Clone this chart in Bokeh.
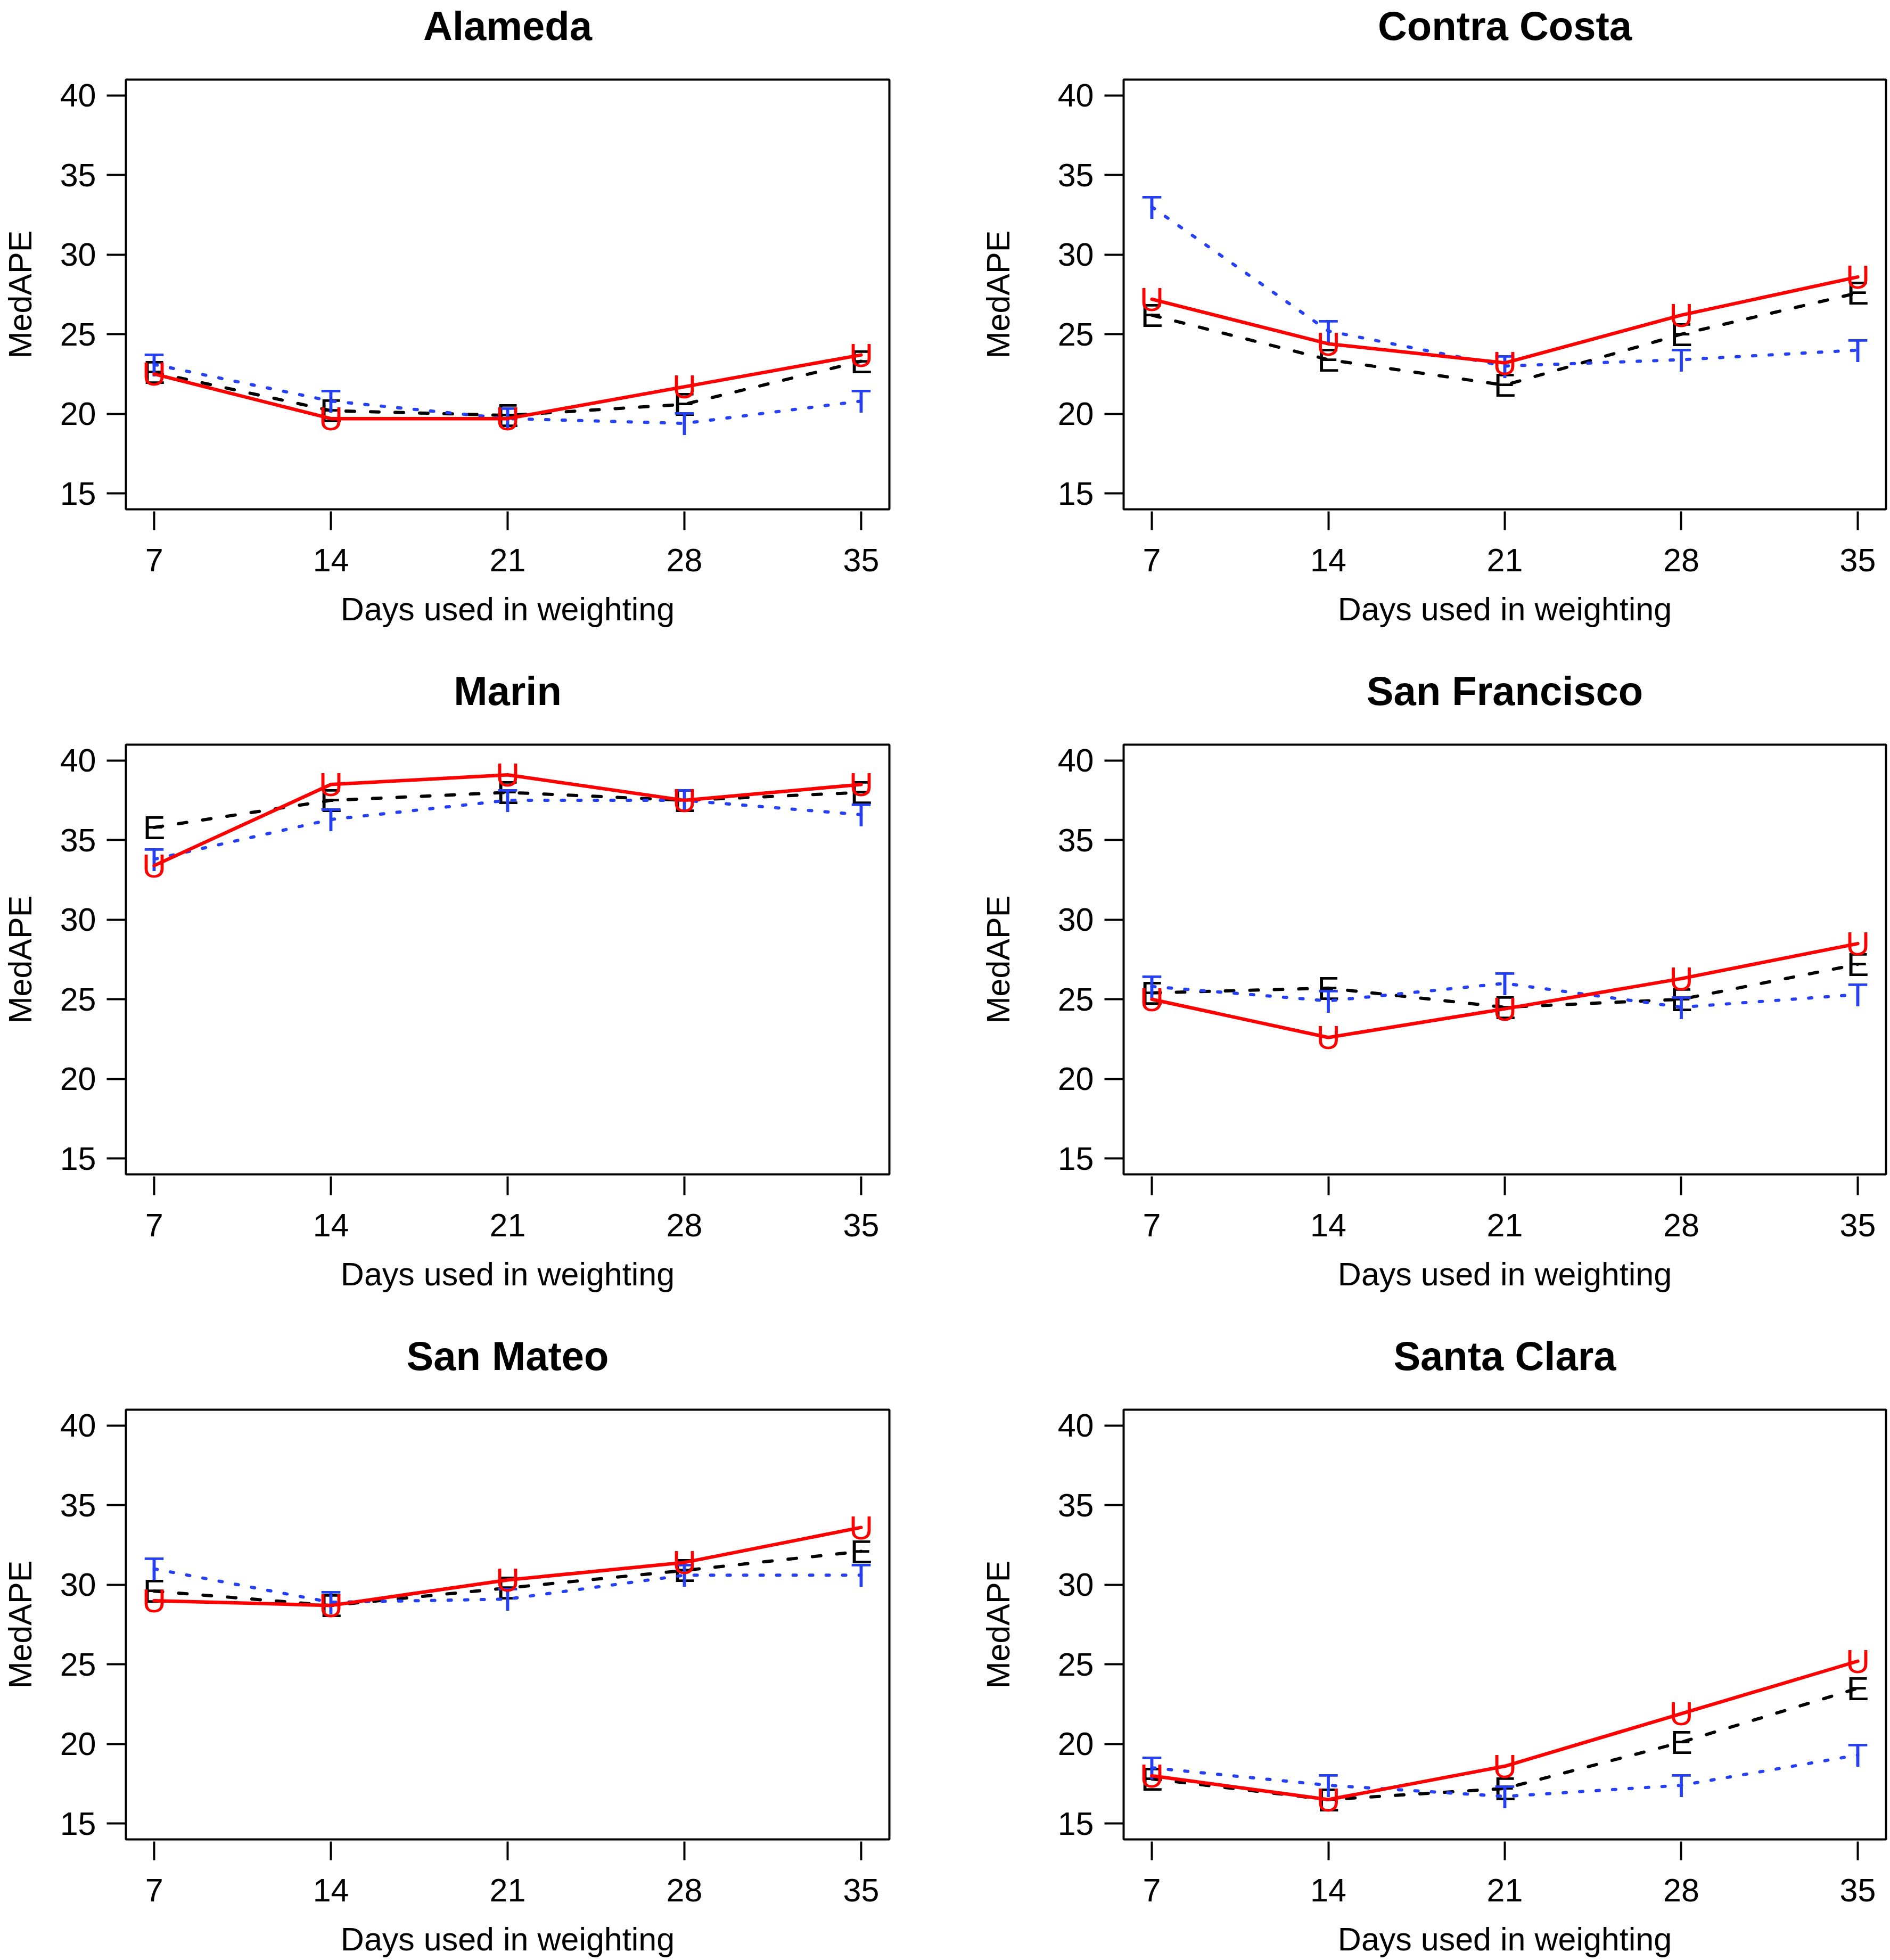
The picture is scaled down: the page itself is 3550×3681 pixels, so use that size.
from bokeh.plotting import figure
from bokeh.layouts import column, row
from bokeh.models import FixedTicker, Range1d, LinearAxis
from bokeh.embed import file_html
from bokeh.resources import INLINE
from bokeh.core.properties import value

# ---------------- data ----------------
days = [7, 14, 21, 28, 35]
y_ticks = [15, 20, 25, 30, 35, 40]
counties = ["Alameda", "Contra Costa", "Marin", "San Francisco", "San Mateo", "Santa Clara"]

medape_E = {
    "Alameda":       [22.6, 20.2, 19.9, 20.6, 23.3],
    "Contra Costa":  [26.2, 23.4, 21.8, 25.0, 27.6],
    "Marin":         [35.8, 37.5, 38.0, 37.5, 38.0],
    "San Francisco": [25.4, 25.7, 24.5, 25.0, 27.2],
    "San Mateo":     [29.6, 28.7, 29.8, 30.9, 32.1],
    "Santa Clara":   [17.8, 16.5, 17.2, 20.1, 23.5],
}
medape_T = {
    "Alameda":       [23.1, 20.8, 19.7, 19.4, 20.8],
    "Contra Costa":  [33.0, 25.2, 23.0, 23.4, 24.0],
    "Marin":         [33.8, 36.3, 37.5, 37.5, 36.6],
    "San Francisco": [25.8, 24.9, 26.0, 24.5, 25.3],
    "San Mateo":     [31.0, 28.9, 29.1, 30.6, 30.6],
    "Santa Clara":   [18.5, 17.4, 16.7, 17.4, 19.3],
}
medape_U = {
    "Alameda":       [22.5, 19.7, 19.7, 21.7, 23.7],
    "Contra Costa":  [27.2, 24.4, 23.2, 26.2, 28.6],
    "Marin":         [33.4, 38.5, 39.1, 37.5, 38.5],
    "San Francisco": [25.0, 22.6, 24.4, 26.3, 28.5],
    "San Mateo":     [29.0, 28.7, 30.3, 31.4, 33.6],
    "Santa Clara":   [18.0, 16.5, 18.6, 21.9, 25.2],
}

series = [
    ("E", medape_E, "black", "16 30", 6),
    ("T", medape_T, "#2440f2", "6 25", 6),
    ("U", medape_U, "red", "solid", 6.5),
]

FONT = "Liberation Sans"
FRAME_H = 807
TOP = 149
ROW_PITCH = 1249


def make_panel(name, col, rw):
    if col == 0:
        left, right, fw, ylab_standoff = 230, 167, 1434, 38
    else:
        left, right, fw, ylab_standoff = 272, 7, 1432, 75
    bottom = (ROW_PITCH - TOP - FRAME_H) if rw < 2 else 226
    p = figure(
        frame_width=fw, frame_height=FRAME_H,
        x_range=Range1d(5.88, 36.12), y_range=Range1d(14, 41),
        output_backend="svg", toolbar_location=None,
        min_border_left=left, min_border_right=right,
        min_border_top=TOP, min_border_bottom=bottom,
    )
    p.outline_line_color = "black"
    p.outline_line_width = 4
    p.background_fill_color = "white"
    p.border_fill_color = "white"
    p.xgrid.grid_line_color = None
    p.ygrid.grid_line_color = None

    for ax in (p.xaxis[0], p.yaxis[0]):
        ax.axis_line_color = None
        ax.minor_tick_line_color = None
        ax.major_tick_line_color = "black"
        ax.major_tick_line_width = 4
        ax.major_label_text_font = FONT
        ax.major_label_text_font_size = "61px"
        ax.major_label_text_color = "black"
        ax.axis_label_text_font = FONT
        ax.axis_label_text_font_size = "61px"
        ax.axis_label_text_font_style = "normal"
        ax.axis_label_text_color = "black"

    xa = p.xaxis[0]
    xa.ticker = FixedTicker(ticks=days)
    xa.major_tick_in = -4
    xa.major_tick_out = 39
    xa.major_label_standoff = 35
    xa.axis_label = "Days used in weighting"
    xa.axis_label_standoff = 34

    ya = p.yaxis[0]
    ya.ticker = FixedTicker(ticks=y_ticks)
    ya.major_tick_in = 0
    ya.major_tick_out = 36
    ya.major_label_standoff = 20
    ya.axis_label = "MedAPE"
    ya.axis_label_standoff = ylab_standoff

    # panel title, carried by a tick-less axis above the frame
    ta = LinearAxis(ticker=FixedTicker(ticks=[]), axis_label=name)
    ta.axis_line_color = None
    ta.major_tick_line_color = None
    ta.minor_tick_line_color = None
    ta.major_tick_in = 0
    ta.major_tick_out = 0
    ta.minor_tick_in = 0
    ta.minor_tick_out = 0
    ta.major_label_standoff = 0
    ta.major_label_text_font_size = "0px"
    ta.axis_label_text_font = FONT
    ta.axis_label_text_font_size = "76px"
    ta.axis_label_text_font_style = "bold"
    ta.axis_label_text_color = "black"
    ta.axis_label_standoff = 59
    p.add_layout(ta, "above")

    for letter, data, color, dash, lw in series:
        vals = data[name]
        p.line(days, vals, line_color=color, line_width=lw, line_dash=dash, line_cap="round")
        p.text(days, vals, text=[letter] * len(days), text_color=color,
               text_font=value(FONT), text_font_size="63px",
               text_align="center", text_baseline="middle")
    return p


rows = []
for r in range(3):
    rows.append(row(make_panel(counties[2 * r], 0, r), make_panel(counties[2 * r + 1], 1, r)))
layout = column(*rows)

open("out.html", "w").write(file_html(layout, INLINE))
